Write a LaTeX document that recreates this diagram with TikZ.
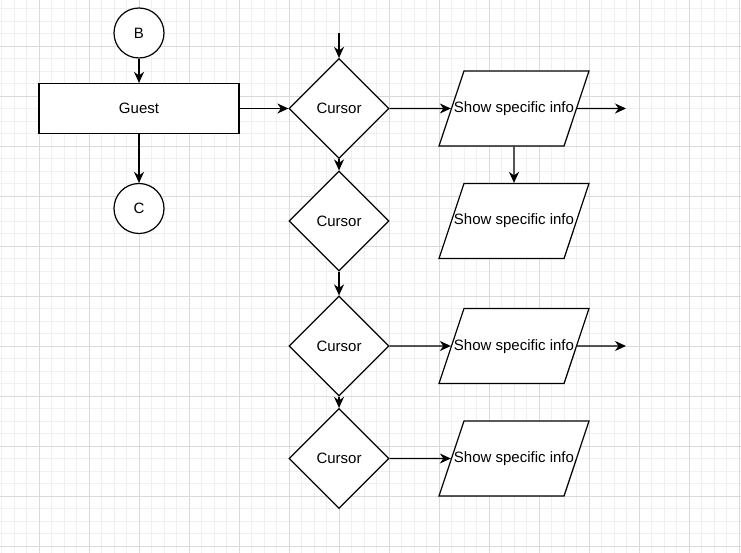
\documentclass[tikz,border=0pt]{standalone}
\usepackage{fontspec}
\setmainfont{Liberation Sans}
\usetikzlibrary{shapes.geometric,arrows.meta}
\definecolor{gridmajor}{HTML}{DADADA}
\definecolor{gridminor}{HTML}{F0F0F0}
\tikzset{
  conn/.style={circle, draw, fill=white, minimum size=50pt, inner sep=0pt},
  process/.style={rectangle, draw, fill=white, minimum width=200pt, minimum height=50pt, inner sep=0pt},
  decision/.style={diamond, draw, fill=white, minimum width=100pt, minimum height=100pt, inner sep=0pt},
  iobox/.style={trapezium, draw, fill=white, trapezium left angle=71.57, trapezium right angle=108.43,
    text height=11pt, text depth=3pt, inner xsep=-10pt, inner ysep=30.5pt}
}
\begin{document}
\begin{tikzpicture}[->, >={Stealth[length=11pt, width=10pt, inset=3.5pt]}, line width=1.2pt, x=1pt, y=-1pt,
  font=\fontsize{15}{18}\selectfont]
  \fill[white] (0,0) rectangle (741,553);
  \useasboundingbox (0,0) rectangle (741,553);
  % grid
  \foreach \x in {1.5,14,...,741} \draw[-, gridminor, line width=0.8pt] (\x,0) -- (\x,553);
  \foreach \y in {8.5,21,...,553} \draw[-, gridminor, line width=0.8pt] (0,\y) -- (741,\y);
  \foreach \x in {39,89,...,741} \draw[-, gridmajor, line width=0.9pt] (\x,0) -- (\x,553);
  \foreach \y in {46,96,...,553} \draw[-, gridmajor, line width=0.9pt] (0,\y) -- (741,\y);

  \node[conn] (B) at (139, 33) {B};
  \node[process] (guest) at (139, 108.5) {Guest};
  \node[conn] (C) at (139, 208.5) {C};

  \node[decision] (cur1) at (339, 108.5) {Cursor};
  \node[decision] (cur2) at (339, 221) {Cursor};
  \node[decision] (cur3) at (339, 346) {Cursor};
  \node[decision] (cur4) at (339, 458.5) {Cursor};

  \node[iobox] (info1) at (514, 108.5) {Show specific info};
  \node[iobox] (info2) at (514, 221) {Show specific info};
  \node[iobox] (info3) at (514, 346) {Show specific info};
  \node[iobox] (info4) at (514, 458.5) {Show specific info};

  \coordinate (top) at (339, 33);
  \coordinate (out1) at (626, 108.5);
  \coordinate (out3) at (626, 346);

  \path (B) edge (guest);
  \path (guest) edge (C);
  \path (guest) edge (cur1);
  \path (top) edge (cur1);
  \path (cur1) edge (cur2);
  \path (cur2) edge (cur3);
  \path (cur3) edge (cur4);
  \path (cur1) edge (info1);
  \path (info1) edge (out1);
  \path (info1) edge (info2);
  \path (cur3) edge (info3);
  \path (info3) edge (out3);
  \path (cur4) edge (info4);
\end{tikzpicture}
\end{document}
